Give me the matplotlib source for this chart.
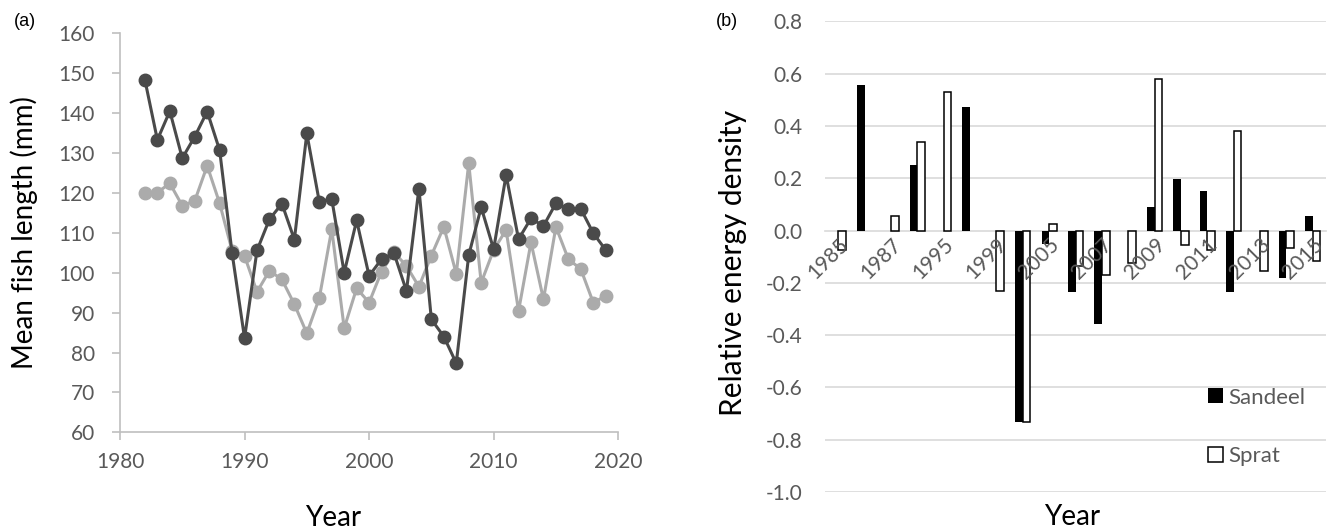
import numpy as np
import matplotlib
matplotlib.use("Agg")
import matplotlib.pyplot as plt

plt.rcParams["font.family"] = ["Lato", "DejaVu Sans"]

# (a) mean fish length per year, two series
years_a = list(range(1982, 2020))
dark_len = [148.3, 133.3, 140.5, 128.7, 134.1, 140.4, 130.7, 104.9, 83.6, 105.6,
            113.4, 117.3, 108.3, 134.9, 117.8, 118.5, 100.0, 113.1, 99.2, 103.4,
            104.9, 95.4, 121.1, 88.3, 84.0, 77.3, 104.4, 116.4, 105.9, 124.5,
            108.4, 113.6, 111.7, 117.4, 116.0, 116.0, 109.9, 105.7]
light_len = [120.1, 120.1, 122.4, 116.8, 118.0, 126.8, 117.4, 105.5, 104.2, 95.2,
             100.5, 98.3, 92.1, 84.8, 93.6, 110.9, 86.1, 96.1, 92.5, 100.3,
             105.1, 101.7, 96.5, 104.3, 111.5, 99.7, 127.4, 97.5, 105.7, 110.7,
             90.4, 107.6, 93.3, 111.5, 103.4, 100.9, 92.5, 94.2]

# (b) relative energy density, only every other category is labelled
labels_b = ["1985", "", "1987", "", "1995", "", "1999", "", "2005", "",
            "2007", "", "2009", "", "2011", "", "2013", "", "2015"]
nan = np.nan
sandeel = [nan, 0.557, nan, 0.251, nan, 0.474, nan, -0.732, -0.053, -0.235,
           -0.356, nan, 0.089, 0.197, 0.153, -0.235, nan, -0.182, 0.057]
sprat = [-0.076, nan, 0.057, 0.337, 0.531, nan, -0.233, -0.732, 0.026, -0.134,
         -0.169, -0.125, 0.581, -0.055, -0.074, 0.382, -0.155, -0.066, -0.117]
yticks_b = [-1.0, -0.8, -0.6, -0.4, -0.2, 0.0, 0.2, 0.4, 0.6, 0.8]

TICK = "#595959"
AXC = "#bfbfbf"
GRID = "#d9d9d9"

fig = plt.figure(figsize=(13.32, 5.32), dpi=100)

# ---- panel (a)
ax1 = fig.add_axes([0.0901, 0.1874, 0.374, 0.75])
ax1.plot(years_a, dark_len, color="#4a4a4a", lw=2.2, marker="o", ms=9, zorder=3)
ax1.plot(years_a, light_len, color="#ababab", lw=2.2, marker="o", ms=9, zorder=2)
ax1.set_xlim(1980, 2020)
ax1.set_ylim(60, 160)
ax1.set_xticks(range(1980, 2021, 10))
ax1.set_yticks(range(60, 161, 10))
for s in ["top", "right"]:
    ax1.spines[s].set_visible(False)
for s in ["left", "bottom"]:
    ax1.spines[s].set_color(AXC)
    ax1.spines[s].set_linewidth(1.2)
ax1.tick_params(axis="x", colors=AXC, labelcolor=TICK, labelsize=15, length=6, width=1.2, pad=8)
ax1.tick_params(axis="y", colors=AXC, labelcolor=TICK, labelsize=15, length=6, width=1.2, pad=12)

fig.text(0.018, 0.562, "Mean fish length (mm)", rotation=90, ha="center", va="center", fontsize=20)
fig.text(0.25, 0.027, "Year", ha="center", va="center", fontsize=20)
fig.text(0.019, 0.96, "(a)", ha="center", va="center", fontsize=13, family=["Liberation Sans"])

# ---- panel (b)
ax2 = fig.add_axes([0.6194, 0.0752, 0.3761, 0.8845])
x = np.arange(len(labels_b))
w = 0.29
for v in yticks_b:
    if v != 0.0:
        ax2.axhline(v, color=GRID, lw=1.2, zorder=1)
ax2.bar(x - w, sandeel, width=w, align="edge", color="black", lw=0, label="Sandeel", zorder=2)
ax2.bar(x, sprat, width=w, align="edge", color="white", edgecolor="black", lw=1.1,
        label="Sprat", zorder=2)
ax2.set_axisbelow(False)  # category labels sit on top of the bars
ax2.set_xlim(-0.5, len(labels_b) - 0.5)
ax2.set_ylim(-1.0, 0.8)
ax2.set_yticks(yticks_b)
ax2.set_yticklabels([f"{v:.1f}" for v in yticks_b])
for s in ["top", "right", "left"]:
    ax2.spines[s].set_visible(False)
ax2.spines["bottom"].set_position(("data", 0))
ax2.spines["bottom"].set_color(GRID)
ax2.spines["bottom"].set_linewidth(1.2)
ax2.spines["bottom"].set_zorder(1.5)
ax2.set_xticks(x)
ax2.set_xticklabels(labels_b, rotation=45, ha="right", va="top", rotation_mode="anchor")
ax2.tick_params(axis="x", length=0, labelcolor=TICK, labelsize=15, pad=3)
ax2.tick_params(axis="y", length=0, labelcolor=TICK, labelsize=15, pad=16)

ax2.legend(loc="upper left", bbox_to_anchor=(0.765, 0.222), frameon=False, fontsize=16,
           labelcolor=TICK, labelspacing=1.75, handlelength=0.65, handleheight=0.65,
           handletextpad=0.25, borderpad=0, borderaxespad=0)

fig.text(0.55, 0.505, "Relative energy density", rotation=90, ha="center", va="center", fontsize=21.5)
fig.text(0.805, 0.028, "Year", ha="center", va="center", fontsize=20)
fig.text(0.546, 0.96, "(b)", ha="center", va="center", fontsize=13, family=["Liberation Sans"])

fig.savefig("out.png", dpi=100)
